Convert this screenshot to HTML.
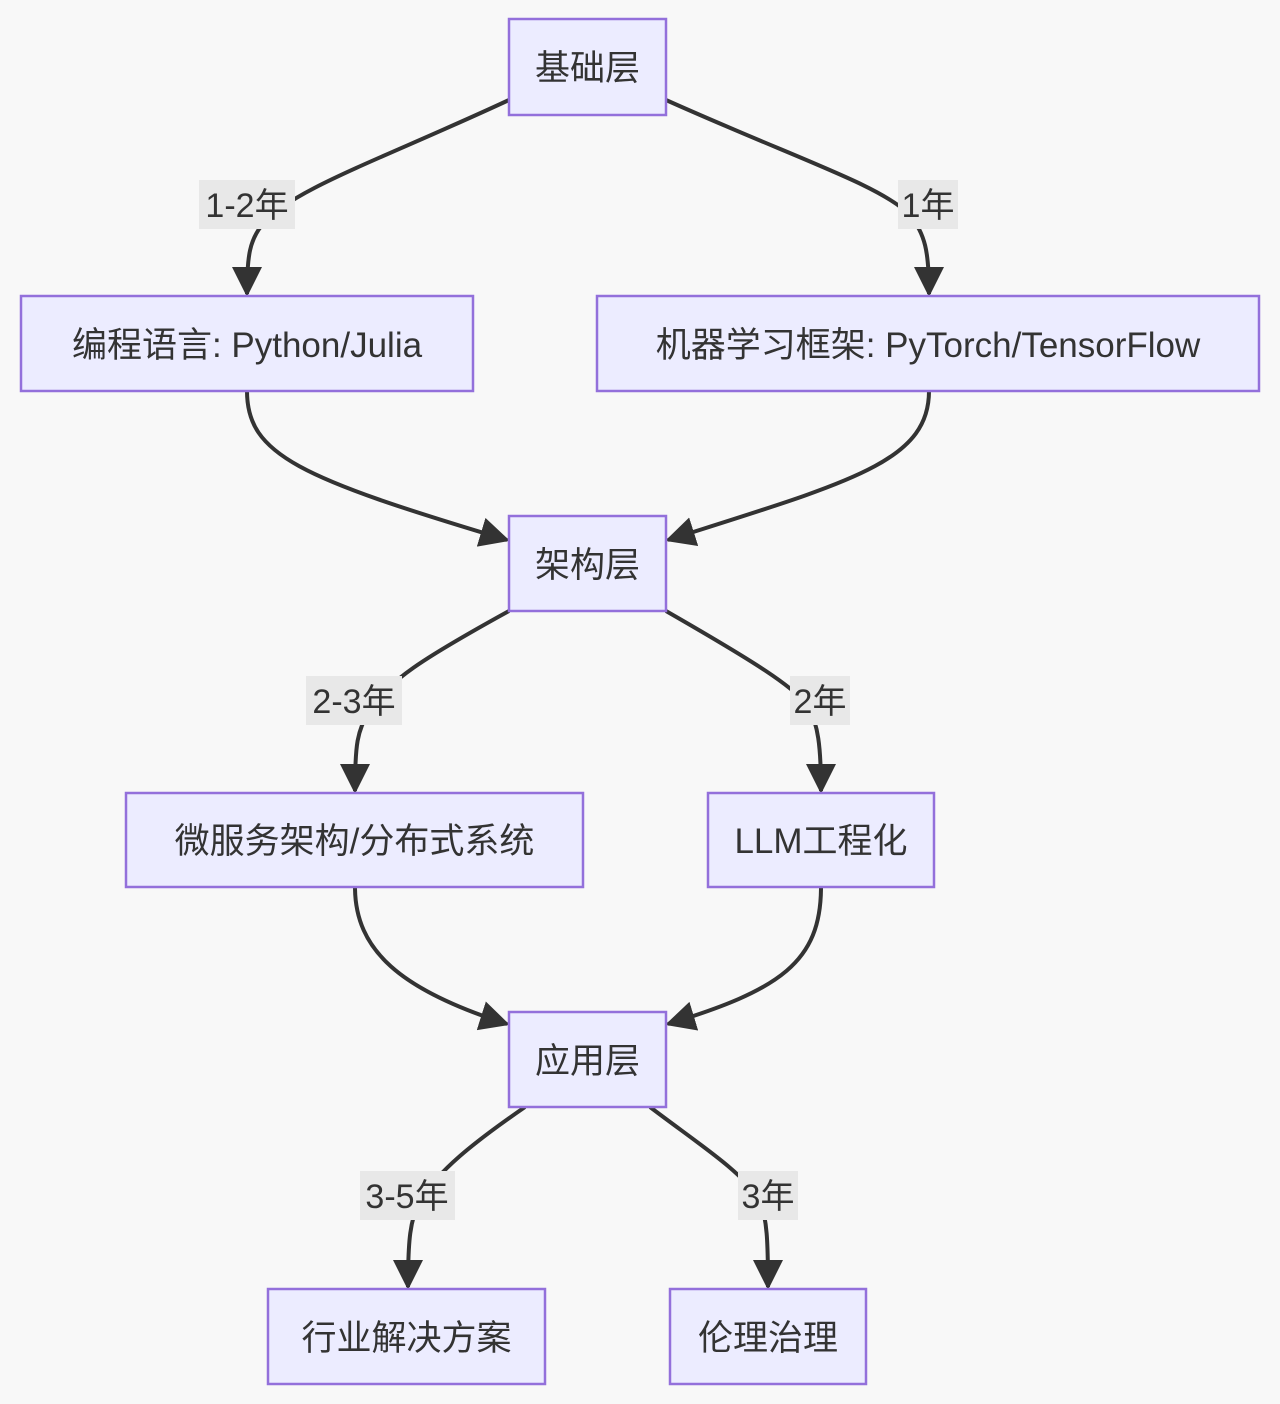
<!DOCTYPE html>
<html><head><meta charset="utf-8"><style>
html,body{margin:0;padding:0;background:#f8f8f8;}
svg{display:block;}
text{font-family:"Liberation Sans","Noto Sans CJK SC",sans-serif;fill:#333;}
.n{fill:#ececff;stroke:#9370db;stroke-width:2.5;}
.e{fill:none;stroke:#333;stroke-width:4;}
.lb{fill:#e8e8e8;}
</style></head><body>
<svg width="1280" height="1404" viewBox="0 0 1280 1404" xmlns="http://www.w3.org/2000/svg">
<defs><marker id="a" viewBox="0 0 10 10" refX="9" refY="5" markerUnits="userSpaceOnUse" markerWidth="30" markerHeight="30" orient="auto"><path d="M0,0 L10,5 L0,10 z" fill="#333"/></marker></defs>
<path class="e" marker-end="url(#a)" d="M509,100 C380,160 290,190 262,225 C250,240 247,255 247,294"/>
<path class="e" marker-end="url(#a)" d="M666,100 C800,160 880,185 910,215 C925,235 929,250 929,294"/>
<path class="e" marker-end="url(#a)" d="M247,391 C247,455 300,478 507,540"/>
<path class="e" marker-end="url(#a)" d="M929,391 C929,462 850,482 668,540"/>
<path class="e" marker-end="url(#a)" d="M509,611 C420,660 390,680 370,710 C357,730 355,745 355,791"/>
<path class="e" marker-end="url(#a)" d="M666,611 C760,665 790,685 808,705 C818,725 821,745 821,791"/>
<path class="e" marker-end="url(#a)" d="M355,887 C355,950 400,990 507,1024"/>
<path class="e" marker-end="url(#a)" d="M821,887 C821,962 780,990 668,1024"/>
<path class="e" marker-end="url(#a)" d="M525,1107 C470,1145 440,1170 420,1200 C410,1220 408,1240 408,1287"/>
<path class="e" marker-end="url(#a)" d="M650,1107 C700,1145 740,1170 760,1200 C767,1220 768,1240 768,1287"/>
<g font-size="34">
<rect class="lb" x="199" y="180" width="96" height="49"/><text x="247" y="217" text-anchor="middle">1-2年</text>
<rect class="lb" x="898" y="180" width="60" height="49"/><text x="928" y="217" text-anchor="middle">1年</text>
<rect class="lb" x="306" y="676" width="96" height="49"/><text x="354" y="713" text-anchor="middle">2-3年</text>
<rect class="lb" x="790" y="676" width="60" height="49"/><text x="820" y="713" text-anchor="middle">2年</text>
<rect class="lb" x="360" y="1171" width="95" height="49"/><text x="407" y="1208" text-anchor="middle">3-5年</text>
<rect class="lb" x="738" y="1171" width="60" height="49"/><text x="768" y="1208" text-anchor="middle">3年</text>
</g>
<g font-size="35">
<rect class="n" x="509" y="19" width="157" height="96"/><text x="587.5" y="80" text-anchor="middle">基础层</text>
<rect class="n" x="21" y="296" width="452" height="95"/><text x="247" y="357" text-anchor="middle">编程语言: Python/Julia</text>
<rect class="n" x="597" y="296" width="662" height="95"/><text x="928" y="357" text-anchor="middle">机器学习框架: PyTorch/TensorFlow</text>
<rect class="n" x="509" y="516" width="157" height="95"/><text x="587.5" y="577" text-anchor="middle">架构层</text>
<rect class="n" x="126" y="793" width="457" height="94"/><text x="354.5" y="853" text-anchor="middle">微服务架构/分布式系统</text>
<rect class="n" x="708" y="793" width="226" height="94"/><text x="821" y="853" text-anchor="middle">LLM工程化</text>
<rect class="n" x="509" y="1012" width="157" height="95"/><text x="587.5" y="1073" text-anchor="middle">应用层</text>
<rect class="n" x="268" y="1289" width="277" height="95"/><text x="406.5" y="1350" text-anchor="middle">行业解决方案</text>
<rect class="n" x="670" y="1289" width="196" height="95"/><text x="768" y="1350" text-anchor="middle">伦理治理</text>
</g>
</svg>
</body></html>
